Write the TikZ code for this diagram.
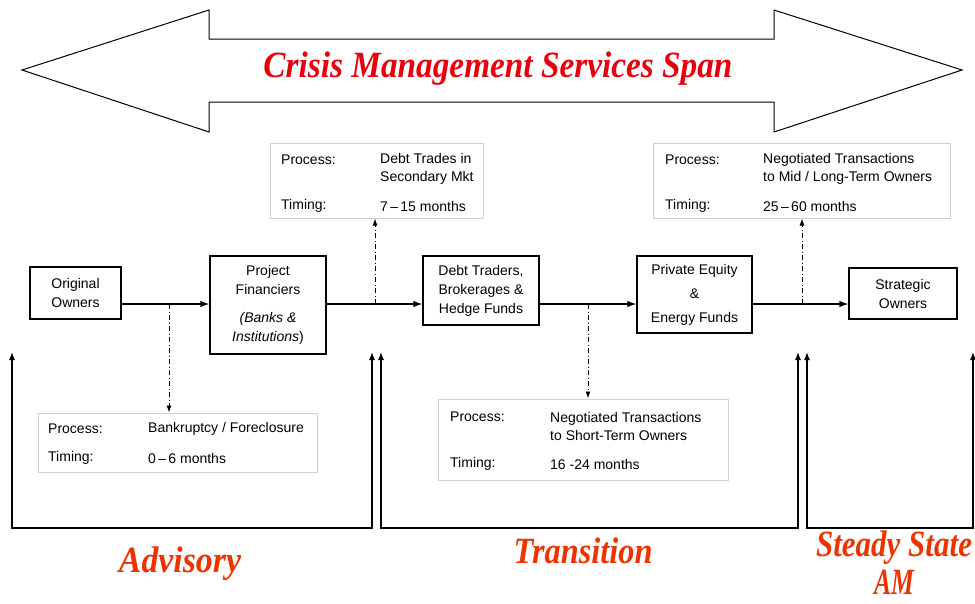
\documentclass[tikz,border=0pt]{standalone}
\usepackage{fontspec}
\setmainfont{Liberation Sans}
\newfontfamily\titlefont{Liberation Serif}
\usetikzlibrary{arrows.meta,calc}

\definecolor{titlered}{HTML}{E8000C}
\definecolor{phasered}{HTML}{EE3300}
\definecolor{procgray}{HTML}{CFCFCF}

% stretch a label to a given width, keeping its height
\newcommand\fitto[2]{\resizebox{#1}{\height}{#2}}

\begin{document}
\begin{tikzpicture}[x=1pt,y=-1pt,
  entity/.style={draw=black,line width=1.2pt,fill=white,align=center,inner sep=0pt,
    font=\fontsize{14}{19}\selectfont},
  procbox/.style={draw=procgray,line width=1pt,fill=white,inner sep=0pt},
  proctext/.style={anchor=west,inner sep=0pt,font=\fontsize{14}{18}\selectfont,align=left},
  flow/.style={line width=1.2pt,-{Latex[length=9pt,width=6.5pt]}},
  hint/.style={line width=0.9pt,dash pattern=on 5pt off 2.5pt on 1pt off 2.5pt,
    -{Latex[length=7pt,width=5pt]}},
  span/.style={line width=1.2pt,{Latex[length=8pt,width=6pt]}-{Latex[length=8pt,width=6pt]}},
  phase/.style={anchor=base,inner sep=0pt,text=phasered,align=center,
    font=\titlefont\bfseries\itshape\fontsize{37}{38}\selectfont}
]
\useasboundingbox (0,0) rectangle (975,603);

% double-headed span arrow across the top
\draw[line width=1pt,fill=white]
  (22,70) -- (209,10) -- (209,39) -- (774,39) -- (774,10) -- (962,70)
  -- (774,132) -- (774,102) -- (209,102) -- (209,132) -- cycle;
\node[anchor=base,inner sep=0pt,text=titlered,
  font=\titlefont\bfseries\itshape\fontsize{37}{40}\selectfont] (title) at (498,77)
  {\fitto{469pt}{Crisis Management Services Span}};

% ownership chain
\node[entity,minimum width=91pt,minimum height=52pt] (oo) at (75.5,293)
  {Original\\Owners};
\node[entity,minimum width=116pt,minimum height=98pt] (pf) at (268,305)
  {Project\\Financiers\\[9pt]\textit{(Banks \&}\\\textit{Institutions})};
\node[entity,minimum width=116pt,minimum height=69pt] (dt) at (481,290.5)
  {Debt Traders,\\Brokerages \&\\Hedge Funds};
\node[entity,minimum width=115pt,minimum height=77pt,
  font=\fontsize{14}{24}\selectfont] (pe) at (694.5,294.5)
  {Private Equity\\\&\\Energy Funds};
\node[entity,minimum width=108pt,minimum height=51pt] (so) at (903,293.5)
  {Strategic\\Owners};

\coordinate (main) at (0,304);
\draw[flow] (oo.east |- main) -- (pf.west |- main);
\draw[flow] (pf.east |- main) -- (dt.west |- main);
\draw[flow] (dt.east |- main) -- (pe.west |- main);
\draw[flow] (pe.east |- main) -- (so.west |- main);

% process / timing panels
\node[procbox,minimum width=279pt,minimum height=59pt] (pa) at (177.5,442.5) {};
\node[proctext] at (48,429) {Process:};
\node[proctext] at (148,429) {Bankruptcy / Foreclosure};
\node[proctext] at (48,458) {Timing:};
\node[proctext] at (148,458) {0\,–\,6 months};

\node[procbox,minimum width=213pt,minimum height=75pt] (pb) at (376.5,180.5) {};
\node[proctext] at (281,160) {Process:};
\node[proctext] at (380,169) {Debt Trades in\\Secondary Mkt};
\node[proctext] at (281,206) {Timing:};
\node[proctext] at (380,206) {7\,–\,15 months};

\node[procbox,minimum width=290pt,minimum height=81pt] (pd) at (583,439.5) {};
\node[proctext] at (450,417) {Process:};
\node[proctext] at (550,426) {Negotiated Transactions\\to Short-Term Owners};
\node[proctext] at (450,464) {Timing:};
\node[proctext] at (550,464) {16 -24 months};

\node[procbox,minimum width=297pt,minimum height=75pt] (pc) at (801.5,180.5) {};
\node[proctext] at (665,160) {Process:};
\node[proctext] at (763,169) {Negotiated Transactions\\to Mid / Long-Term Owners};
\node[proctext] at (665,206) {Timing:};
\node[proctext] at (763,206) {25\,–\,60 months};

% exits from the main chain into each panel
\coordinate (xa) at (169,304);
\coordinate (xb) at (375,304);
\coordinate (xd) at (588,304);
\coordinate (xc) at (802,304);
\draw[hint] (xa) -- (pa.north -| xa);
\draw[hint] (xb) -- (pb.south -| xb);
\draw[hint] (xd) -- (pd.north -| xd);
\draw[hint] (xc) -- (pc.south -| xc);

% phase brackets along the bottom
\coordinate (a1) at (12,352);   \coordinate (a2) at (372,352);
\coordinate (t1) at (381,352);  \coordinate (t2) at (798,352);
\coordinate (s1) at (807,352);  \coordinate (s2) at (973,352);
\draw[span] (a1) -- (a1 |- 0,528) -- (a2 |- 0,528) -- (a2);
\draw[span] (t1) -- (t1 |- 0,528) -- (t2 |- 0,528) -- (t2);
\draw[span] (s1) -- (s1 |- 0,528) -- (s2 |- 0,528) -- (s2);

\node[phase] (adv) at (180,572) {\fitto{122pt}{Advisory}};
\node[phase] (trn) at (583,563) {\fitto{139pt}{Transition}};
\node[phase,anchor=north] (sst) at (894,531)
  {\fitto{156pt}{Steady State}\\\fitto{40pt}{AM}};
\end{tikzpicture}
\end{document}
